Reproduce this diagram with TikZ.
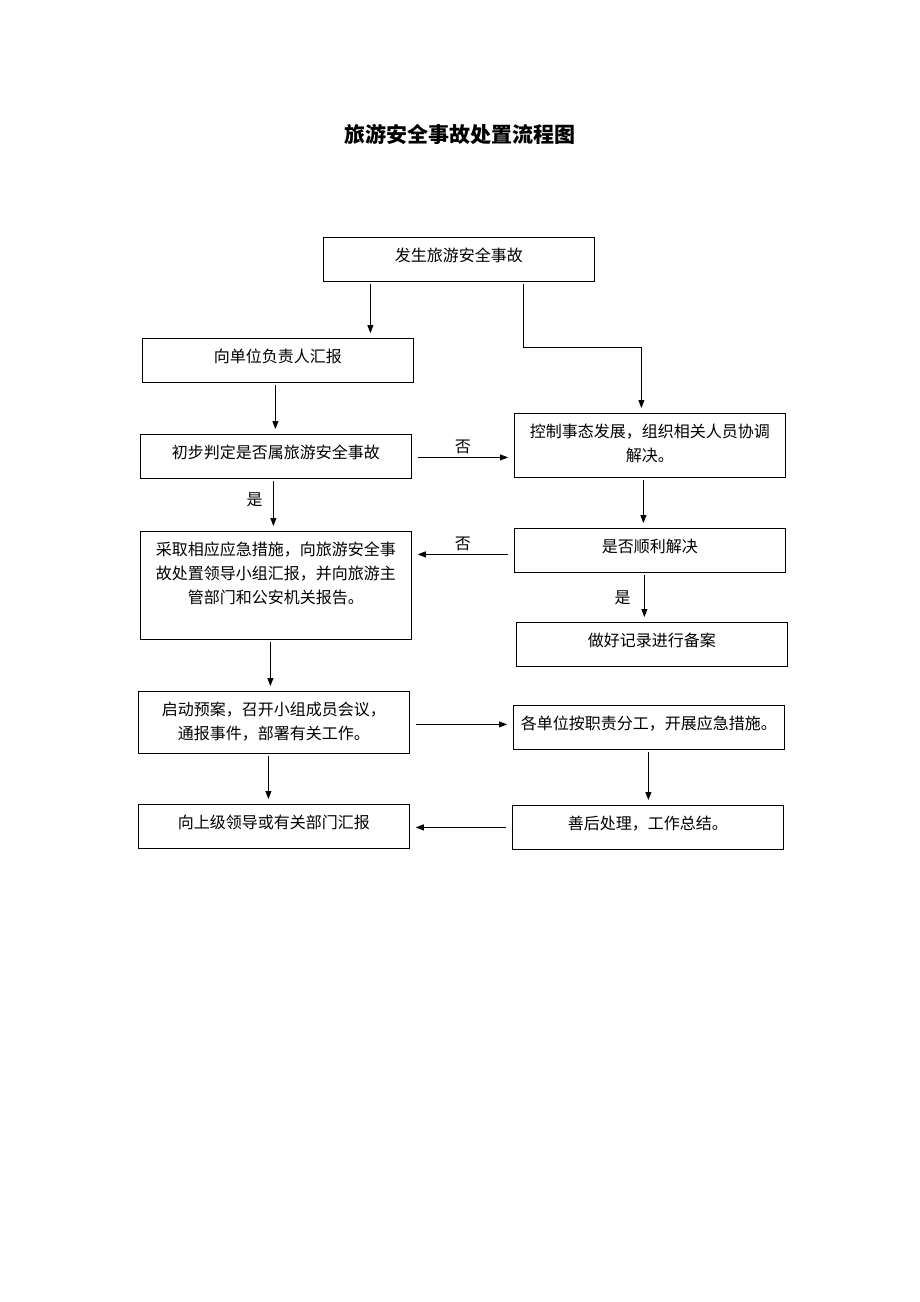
\documentclass[tikz,border=0pt]{standalone}
\usepackage{fontspec}
\setmainfont{Noto Sans CJK SC}
\usetikzlibrary{arrows.meta}

% text set at the top of a box of given height
\newcommand{\boxtext}[2]{\parbox[c][#1][t]{271pt}{\centering\vspace*{7pt}\strut #2}}

\begin{document}
\begin{tikzpicture}[x=1pt, y=-1pt, >={Triangle[length=8pt,width=6pt]}, font=\fontsize{16}{24}\selectfont]

    \tikzset{%
    flowbox/.style={
        draw,
        line width=0.8pt,
        inner sep=0pt,
        anchor=north west
        },
    flow/.style={->, line width=0.8pt, shorten <=2pt, shorten >=5pt},
    side flow/.style={flow, shorten <=6pt, shorten >=6pt},
    }

    \useasboundingbox (0,0) rectangle (920,1302);

    % Title
    \node [font=\fontsize{21}{24}\selectfont\bfseries] (title) at (460,134) {旅游安全事故处置流程图};

    % Left column boxes
    \node [flowbox] (start) at (323,237) {\boxtext{44pt}{发生旅游安全事故}};
    \node [flowbox] (report-unit) at (142,338) {\boxtext{44pt}{向单位负责人汇报}};
    \node [flowbox] (judge) at (140,434) {\boxtext{44pt}{初步判定是否属旅游安全事故}};
    \node [flowbox] (measures) at (140,531) {\boxtext{108pt}{采取相应应急措施，向旅游安全事\\故处置领导小组汇报，并向旅游主\\管部门和公安机关报告。}};
    \node [flowbox] (plan) at (138,691) {\boxtext{62pt}{启动预案，召开小组成员会议，\\通报事件，部署有关工作。}};
    \node [flowbox] (report-up) at (138,804) {\boxtext{44pt}{向上级领导或有关部门汇报}};

    % Right column boxes
    \node [flowbox] (control) at (514,413) {\boxtext{64pt}{控制事态发展，组织相关人员协调\\解决。}};
    \node [flowbox] (solved) at (514,528) {\boxtext{44pt}{是否顺利解决}};
    \node [flowbox] (record) at (516,622) {\boxtext{44pt}{做好记录进行备案}};
    \node [flowbox] (duties) at (513,705) {\boxtext{44pt}{各单位按职责分工，开展应急措施。}};
    \node [flowbox] (aftermath) at (512,805) {\boxtext{44pt}{善后处理，工作总结。}};

    % Vertical arrows
    \draw [flow] ([xshift=-88.5pt]start.south) -- ([xshift=92.5pt]report-unit.north);
    \draw [flow] ([xshift=64.5pt]start.south) -- ++(0,66) -| ([xshift=-8.5pt]control.north);
    \draw [flow] ([xshift=-2.5pt]report-unit.south) -- ([xshift=-0.5pt]judge.north);
    \draw [flow] ([xshift=-2.5pt]judge.south) -- node [left=7pt, pos=0.4] {是} ([xshift=-2.5pt]measures.north);
    \draw [flow] ([xshift=-6.5pt]control.south) -- ([xshift=-6.5pt]solved.north);
    \draw [flow] ([xshift=-5.5pt]solved.south) -- node [left=10pt] {是} ([xshift=-7.5pt]record.north);
    \draw [flow] ([xshift=-5.5pt]measures.south) -- ([xshift=-3.5pt]plan.north);
    \draw [flow] ([xshift=-5.5pt]plan.south) -- ([xshift=-5.5pt]report-up.north);
    \draw [flow] ([xshift=-0.5pt]duties.south) -- ([xshift=0.5pt]aftermath.north);

    % Horizontal arrows
    \draw [side flow] ([yshift=-1pt]judge.east) -- node [above] {否} ([yshift=-12pt]control.west);
    \draw [side flow] ([yshift=-4pt]solved.west) -- node [above] {否} ([yshift=31pt]measures.east);
    \draw [side flow] ([yshift=-2pt]plan.east) -- ([yshift=3pt]duties.west);
    \draw [side flow] (aftermath.west) -- ([yshift=-1pt]report-up.east);

\end{tikzpicture}
\end{document}
